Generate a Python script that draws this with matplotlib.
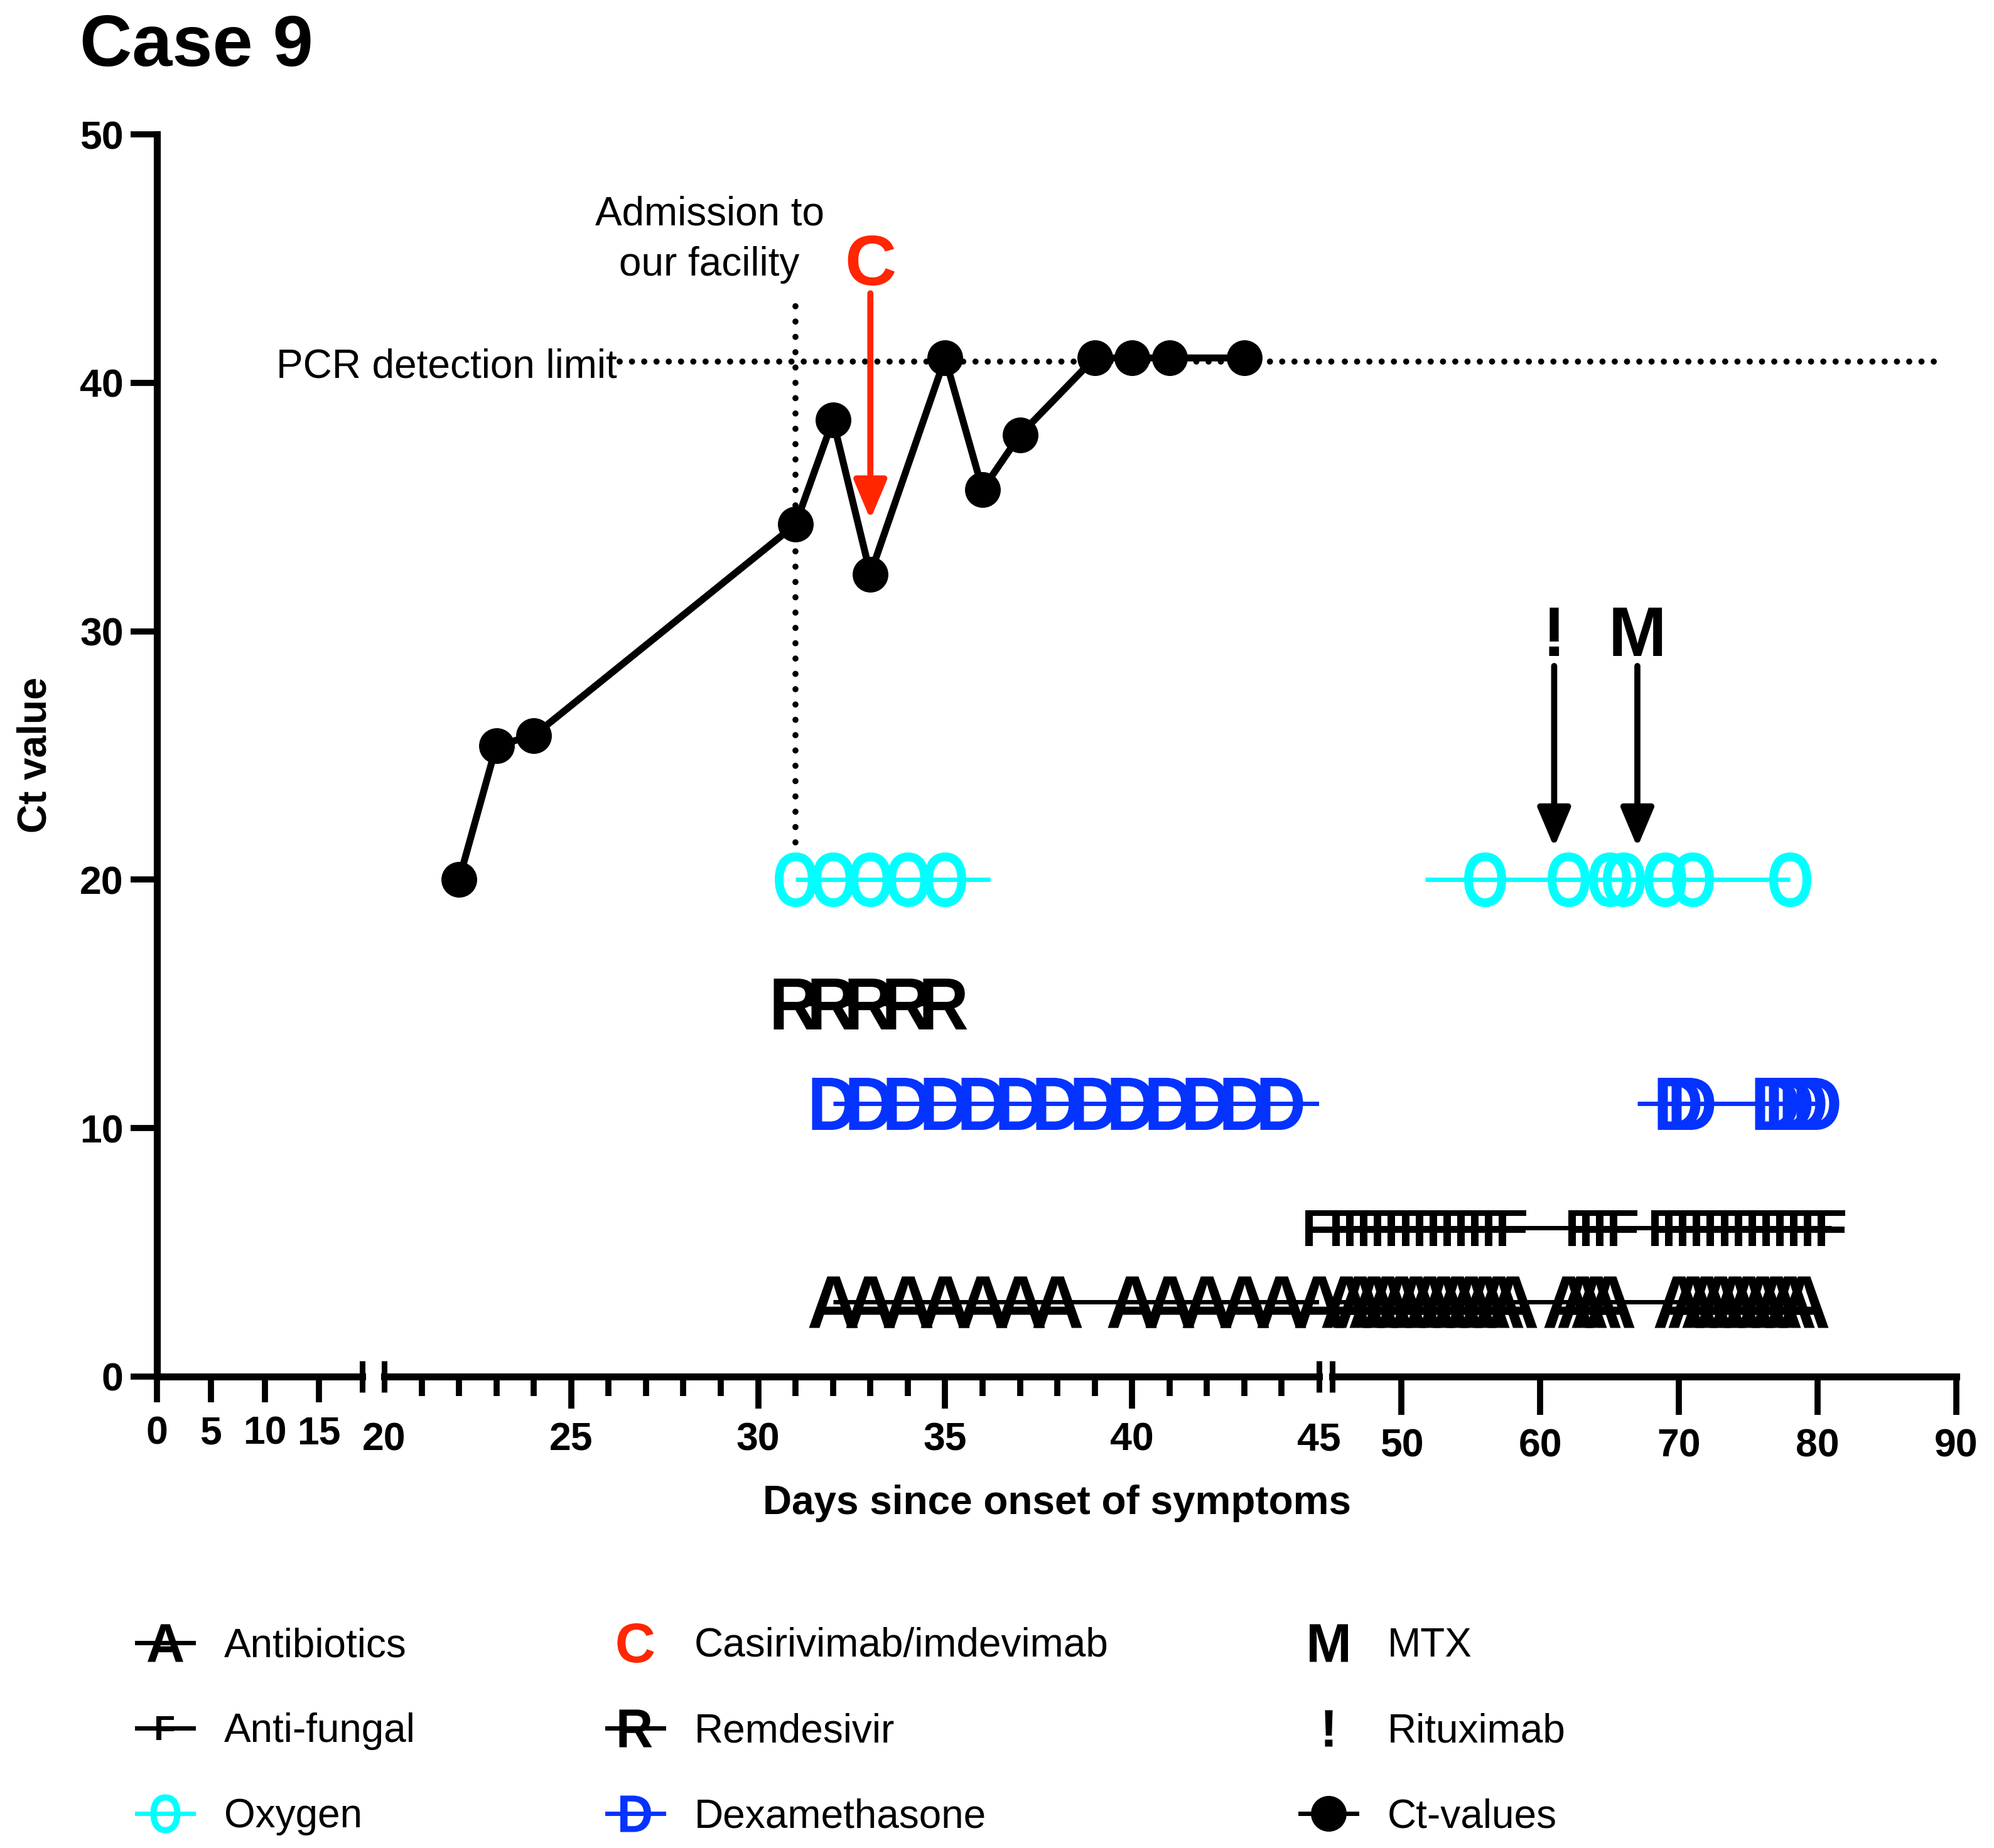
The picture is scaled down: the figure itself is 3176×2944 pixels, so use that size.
import numpy as np
import matplotlib
matplotlib.use("Agg")
import matplotlib.pyplot as plt
from matplotlib.lines import Line2D
from matplotlib.patches import ArrowStyle
from matplotlib.textpath import TextPath
from matplotlib.font_manager import FontProperties
from matplotlib.transforms import Affine2D
from matplotlib.ticker import MultipleLocator

plt.rcParams['font.family'] = ['Liberation Sans', 'DejaVu Sans']
plt.rcParams['font.weight'] = 'bold'

# --- data -----------------------------------------------------------------
ct_days = [22, 23, 24, 31, 32, 33, 35, 36, 37, 39, 40, 41, 43]
ct_values = [20.0, 25.4, 25.8, 34.3, 38.5, 32.3, 41.0, 35.7, 37.9, 41.0, 41.0, 41.0, 41.0]

oxygen_y = 20
oxygen_days = [31, 32, 33, 34, 35, 56, 62, 65, 66, 69, 71, 78]
oxygen_spans = [(31, 36.2), (51.7, 78)]

remdesivir_y = 15
remdesivir_days = [31, 32, 33, 34, 35]
remdesivir_spans = [(31, 35)]

dexa_y = 11
dexa_days = [32, 33, 34, 35, 36, 37, 38, 39, 40, 41, 42, 43, 44,
             70, 71, 77, 78, 79, 80]
dexa_spans = [(32, 45), (67, 80)]

antifungal_y = 6
antifungal_days = [45, 46, 47, 48, 49, 50, 51, 52, 53, 54, 55, 56, 57, 58,
                   63, 64, 65, 66,
                   69, 70, 71, 72, 73, 74, 75, 76, 77, 78, 79, 80, 81]
antifungal_spans = [(45, 81)]

antibiotic_y = 3
antibiotic_days = [32, 33, 34, 35, 36, 37, 38,
                   40, 41, 42, 43, 44, 45, 46, 47, 48, 49, 50, 51, 52, 53, 54, 55, 56, 57, 58,
                   62, 63, 64, 65,
                   70, 71, 72, 73, 74, 75, 76, 77, 78, 79]
antibiotic_spans = [(32, 79)]

admission_day = 31
casirivimab_day = 33
rituximab_day = 61
mtx_day = 67
detection_limit = 40.85
detection_span = (26.3, 88.4)

x_segments = [(0, 19), (20, 45), (45, 90)]
x_major = [[0, 5, 10, 15], [20, 25, 30, 35, 40, 45], [50, 60, 70, 80, 90]]
y_ticks = [0, 10, 20, 30, 40, 50]

legend_labels = ['Antibiotics', 'Anti-fungal', 'Oxygen',
                 'Casirivimab/imdevimab', 'Remdesivir', 'Dexamethasone',
                 'MTX', 'Rituximab', 'Ct-values']

RED = '#FF2600'
CYAN = '#00FFFF'
BLUE = '#0433FF'

# --- layout (pixels) --------------------------------------------------------
W, H, DPI = 3176, 2944, 100
seg_px = [(249.5, 577), (612, 2101), (2122, 3116)]
y0_px, y50_px = 2193, 214
tick_len = [29.5, 36.7, 44]

BOLD = FontProperties(family='Liberation Sans', weight='bold')


def glyph(ch, w=None, h=None):
    """Letter shaped marker, centred, scaled to w x h pixels."""
    p = TextPath((0, 0), ch, size=100, prop=BOLD)
    ext = p.get_extents()
    sy = h / ext.height
    sx = sy if w is None else w / ext.width
    tr = Affine2D().translate(-(ext.x0 + ext.x1) / 2, -(ext.y0 + ext.y1) / 2).scale(sx, sy)
    path = tr.transform_path(p)
    ms = 2 * np.abs(path.vertices).max() * 72 / DPI
    return path, ms


rows = [
    (oxygen_days, oxygen_y, oxygen_spans, glyph('O', 67, 87), CYAN),
    (remdesivir_days, remdesivir_y, remdesivir_spans, glyph('R', 70, 81), 'black'),
    (dexa_days, dexa_y, dexa_spans, glyph('D', 68, 83), BLUE),
    (antifungal_days, antifungal_y, antifungal_spans, glyph('F', 44, 57), 'black'),
    (antibiotic_days, antibiotic_y, antibiotic_spans, glyph('A', 78, 82), 'black'),
]

fig = plt.figure(figsize=(W / DPI, H / DPI), dpi=DPI)

axes = []
for i, ((lo, hi), (p0, p1)) in enumerate(zip(x_segments, seg_px)):
    ax = fig.add_axes([p0 / W, 1 - y0_px / H, (p1 - p0) / W, (y0_px - y50_px) / H])
    ax.patch.set_visible(False)
    ax.set_xlim(lo, hi)
    ax.set_ylim(0, 50)
    for s in ('top', 'right'):
        ax.spines[s].set_visible(False)
    ax.spines['bottom'].set_linewidth(8)
    ax.spines['left'].set_linewidth(8)
    ax.set_xticks(x_major[i])
    ax.tick_params(axis='x', length=tick_len[i], width=7, pad=15, labelsize=45)
    if i == 0:
        ax.set_yticks(y_ticks)
        ax.tick_params(axis='y', length=30, width=7, pad=8, labelsize=45)
    else:
        ax.spines['left'].set_visible(False)
        ax.tick_params(axis='y', left=False, labelleft=False)
    axes.append(ax)

ax1, ax2, ax3 = axes
ax2.xaxis.set_minor_locator(MultipleLocator(1))
ax2.tick_params(axis='x', which='minor', length=22.3, width=7)
ticks = ax2.xaxis.get_major_ticks()
ticks[0].tick1line.set_visible(False)
ticks[-1].tick1line.set_visible(False)

# axis break marks
for ax, xb in [(ax1, 19), (ax2, 20), (ax2, 45), (ax3, 45)]:
    ax.plot([xb], [0], marker='|', ms=36, mew=6.5, color='black', clip_on=False, zorder=6)

# treatment rows
ranges = [(0, 19), (20, 45), (45.5, 90)]
for ax, (lo, hi), (xlo, xhi) in zip(axes, ranges, x_segments):
    for days, y, spans, (path, ms), col in rows:
        for s, e in spans:
            if e > xlo and s < xhi:
                ax.plot([s, e], [y, y], color=col, lw=5, solid_capstyle='butt', zorder=2)
        dd = [d for d in days if lo <= d <= hi]
        if dd:
            ax.plot(dd, [y] * len(dd), ls='none', marker=path, ms=ms, mfc=col, mec=col,
                    mew=0, clip_on=False, zorder=3)

# detection limit, carried across the gap between the two right segments
ax2.plot([detection_span[0], 45.35], [detection_limit] * 2, color='black', lw=7,
         ls=(0, (0.01, 2.0)), dash_capstyle='round', zorder=1.5, clip_on=False)
ax3.plot([45.9, detection_span[1]], [detection_limit] * 2, color='black', lw=7,
         ls=(0, (0.01, 2.0)), dash_capstyle='round', zorder=1.5)

# admission line
ax2.plot([admission_day, admission_day], [21.5, 43.6], color='black', lw=7,
         ls=(0, (0.01, 2.5)), dash_capstyle='round', zorder=1.5)

# Ct values
ax2.plot(ct_days, ct_values, color='black', lw=8, marker='o', ms=40, zorder=4)

# annotations
ax2.text(26.22, 40.22, 'PCR detection limit', ha='right', va='baseline',
         fontsize=46, fontweight='normal')
ax2.text(28.7, 46.36, 'Admission to', ha='center', va='baseline', fontsize=46, fontweight='normal')
ax2.text(28.7, 44.32, 'our facility', ha='center', va='baseline', fontsize=46, fontweight='normal')

astyle = ArrowStyle('-|>', head_length=38, head_width=16)
ax2.text(casirivimab_day, 43.94, 'C', color=RED, ha='center', va='baseline', fontsize=82)
ax2.annotate('', xy=(casirivimab_day, 34.5), xytext=(casirivimab_day, 43.6),
             arrowprops=dict(arrowstyle=astyle, color=RED, lw=7, shrinkA=0, shrinkB=0,
                             mutation_scale=1), zorder=5)
for day, lab in [(rituximab_day, '!'), (mtx_day, 'M')]:
    ax3.text(day, 29.0, lab, ha='center', va='baseline', fontsize=80)
    ax3.annotate('', xy=(day, 21.3), xytext=(day, 28.6),
                 arrowprops=dict(arrowstyle=astyle, color='black', lw=7, shrinkA=0,
                                 shrinkB=0, mutation_scale=1), zorder=5)

# titles and axis labels
fig.text(127 / W, 1 - 105 / H, 'Case 9', fontsize=83, va='baseline', ha='left')
fig.text(57 / W, 1 - 1203 / H, 'Ct value', rotation=90, ha='center', va='center', fontsize=46)
fig.text(1684 / W, 1 - 2395 / H, 'Days since onset of symptoms', ha='center', va='center',
         fontsize=46)

# legend
def handle(col, mk, line=True):
    path, ms = mk
    return Line2D([], [], color=col, lw=5 if line else 0, ls='-' if line else 'none',
                  marker=path, ms=ms, mfc=col, mec=col, mew=0)

handles = [
    handle('black', glyph('A', 57, 60)),
    handle('black', glyph('F', 29, 38)),
    handle(CYAN, glyph('O', 48, 62)),
    handle(RED, glyph('C', None, 63), line=False),
    handle('black', glyph('R', 52, 60)),
    handle(BLUE, glyph('D', 49, 58)),
    handle('black', glyph('M', None, 60), line=False),
    handle('black', glyph('!', None, 58), line=False),
    Line2D([], [], color='black', lw=5, marker='o', ms=40),
]
fig.legend(handles, legend_labels, ncol=3, loc='upper left',
           bbox_to_anchor=(218 / W, 1 - 2592 / H), frameon=False,
           prop=FontProperties(family='Liberation Sans', weight='normal', size=46),
           handlelength=1.41, handletextpad=0.77, columnspacing=4.77,
           labelspacing=1.19, borderpad=0, borderaxespad=0, numpoints=1)

fig.savefig('out.png', dpi=DPI)
